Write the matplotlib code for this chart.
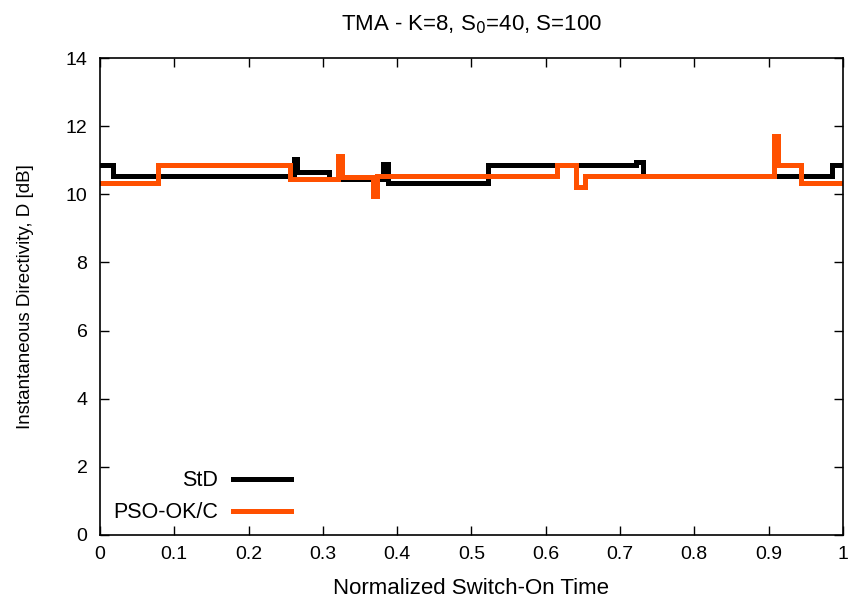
import numpy as np
import matplotlib
matplotlib.use("Agg")
import matplotlib.pyplot as plt

plt.rcParams['font.family'] = ['Liberation Sans', 'DejaVu Sans']

# step breakpoints (switch-on time) and directivity levels [dB]
std_x = [0.0, 0.018, 0.261, 0.265, 0.308, 0.381, 0.388, 0.522, 0.722, 0.731, 0.985, 1.0]
std_d = [10.87, 10.55, 11.05, 10.64, 10.46, 10.88, 10.32, 10.87, 10.96, 10.53, 10.87, 10.87]

pso_x = [0.0, 0.078, 0.256, 0.321, 0.326, 0.368, 0.373, 0.615, 0.641, 0.653,
         0.907, 0.913, 0.943, 1.0]
pso_d = [10.32, 10.87, 10.46, 11.12, 10.5, 9.95, 10.55, 10.87, 10.22, 10.54,
         11.7, 10.87, 10.32, 10.32]

fig = plt.figure(figsize=(8.54, 6.03), dpi=100)
ax = fig.add_axes([0.117, 0.1128, 0.870, 0.791])

ax.plot(std_x, std_d, drawstyle='steps-post', color='black', lw=3.6,
        label='StD', solid_joinstyle='miter')
ax.plot(pso_x, pso_d, drawstyle='steps-post', color='#ff5000', lw=3.6,
        label='PSO-OK/C', solid_joinstyle='miter')

ax.set_xlim(0, 1)
ax.set_ylim(0, 14)
ax.set_xticks(np.arange(0, 1.01, 0.1))
ax.set_xticklabels(['0', '0.1', '0.2', '0.3', '0.4', '0.5', '0.6', '0.7', '0.8', '0.9', '1'])
ax.set_yticks(np.arange(0, 15, 2))
ax.tick_params(direction='in', top=True, right=True, length=6.5, width=1,
               labelsize=14)
ax.tick_params(axis='x', pad=8)
ax.tick_params(axis='y', pad=9)
for s in ax.spines.values():
    s.set_linewidth(1.2)

ax.set_xlabel('Normalized Switch-On Time', fontsize=16, labelpad=11)
ax.set_ylabel('Instantaneous Directivity, D [dB]', fontsize=13.5, labelpad=23)
ax.set_title('TMA - K=8, S$_0$=40, S=100', fontsize=16, pad=20)

leg = ax.legend(loc='lower left', bbox_to_anchor=(-0.008, -0.016), frameon=False,
                markerfirst=False, fontsize=15.5, handlelength=2.7,
                labelspacing=0.52, handletextpad=0.7, borderaxespad=0.5)
for t in leg.get_texts():
    t.set_ha('right')
leg._legend_box.align = 'right'

fig.savefig('out.png', dpi=100)
